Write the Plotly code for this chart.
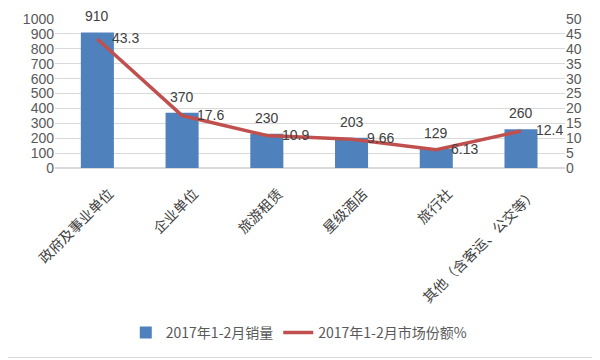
import plotly.graph_objects as go

categories = ["政府及事业单位", "企业单位", "旅游租赁", "星级酒店", "旅行社", "其他（含客运、公交等）"]
sales = [910, 370, 230, 203, 129, 260]
share = [43.3, 17.6, 10.9, 9.66, 6.13, 12.4]
share_labels = ["43.3", "17.6", "10.9", "9.66", "6.13", "12.4"]
left_ticks = list(range(0, 1001, 100))
right_ticks = list(range(0, 51, 5))

font_num = "Liberation Sans"
grey = "#595959"

# page has an 8px body margin: figure is sized/offset to compensate
W, H = 592, 352
ML, MR, MT, MB = 47, 35, 11, 192
PW = W - ML - MR
PH = H - MT - MB

fig = go.Figure()
fig.add_trace(go.Bar(
    x=categories, y=sales, name="2017年1-2月销量",
    marker=dict(color="#4F81BD", line=dict(width=0)),
    width=0.39,
))
fig.add_trace(go.Scatter(
    x=categories, y=share, name="2017年1-2月市场份额%",
    mode="lines", yaxis="y2",
    line=dict(color="#C0504D", width=3.5),
    cliponaxis=False,
))
for c, v in zip(categories, sales):
    fig.add_annotation(x=c, y=v, text=str(v), showarrow=False,
                       yanchor="bottom", yshift=6,
                       font=dict(family=font_num, size=14, color="#404040"))
for c, v, t in zip(categories, share, share_labels):
    fig.add_annotation(x=c, y=v, yref="y2", text=t, showarrow=False,
                       xanchor="left", yanchor="middle", xshift=13, yshift=1,
                       font=dict(family=font_num, size=14, color="#404040"))

# outer border (right and bottom edges visible inside figure)
bx = (589.5 - ML) / PW
by = (MT + PH - 349.5) / PH
fig.add_shape(type="line", xref="paper", yref="paper", x0=bx, x1=bx, y0=by, y1=(MT + PH) / PH,
              line=dict(color="#D9D9D9", width=1), layer="below")
fig.add_shape(type="line", xref="paper", yref="paper", x0=-ML / PW, x1=bx, y0=by, y1=by,
              line=dict(color="#D9D9D9", width=1), layer="below")

fig.update_layout(
    width=W, height=H,
    margin=dict(l=ML, r=MR, t=MT, b=MB, autoexpand=False),
    paper_bgcolor="white", plot_bgcolor="white",
    bargap=0.61,
    showlegend=True,
    legend=dict(orientation="h", x=0.478, xanchor="center",
                y=(MT + PH - 325) / PH, yanchor="middle",
                font=dict(family="Noto Sans CJK SC", size=14, color=grey)),
    xaxis=dict(tickangle=-45, tickfont=dict(family="Noto Sans CJK SC", size=14, color="#404040"),
               showline=False, ticks="", showgrid=False, automargin=False,
               ticklabelstandoff=14, ticklabelshift=12),
    yaxis=dict(range=[0, 1000], tickvals=left_ticks, showgrid=True, gridcolor="#D9D9D9",
               gridwidth=1, zeroline=True, zerolinecolor="#D9D9D9", automargin=False,
               tickfont=dict(family=font_num, size=14, color=grey), ticks=""),
    yaxis2=dict(range=[0, 50], tickvals=right_ticks, overlaying="y", side="right",
                showgrid=False, zeroline=False, automargin=False,
                tickfont=dict(family=font_num, size=14, color=grey), ticks=""),
)
fig.write_html("out.html")
